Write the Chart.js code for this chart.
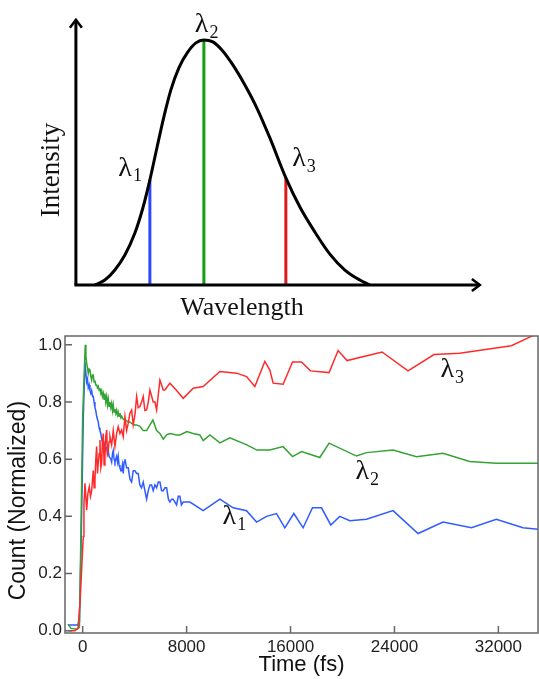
<!DOCTYPE html>
<html><head><meta charset="utf-8">
<script src="https://cdn.jsdelivr.net/npm/chart.js@4.4.1/dist/chart.umd.min.js"></script>
<style>
html,body{margin:0;padding:0;background:#fff;}
#wrap{position:relative;width:539px;height:679px;overflow:hidden;background:#fff;}
.box{position:absolute;left:0;}
</style></head><body>
<div id="wrap">
<div class="box" style="top:0;width:539px;height:320px"><canvas id="top" width="539" height="320"></canvas></div>
<div class="box" style="top:320px;width:539px;height:359px"><canvas id="bot" width="539" height="359"></canvas></div>
</div>
<script>
// ---------- top schematic: spectrum (arbitrary units) ----------
const spectrumX = [0, 3.64, 7.27, 10.91, 14.55, 17.45, 20, 22.55, 25.09, 27.64, 30.55, 33.82, 36.73, 39.64, 42.91, 46.18, 50.18, 54.55, 58.91, 63.64, 69.45, 74.55, 80, 85.45, 90.91, 96.36, 100];
const spectrumY = [0, 0.020, 0.061, 0.122, 0.212, 0.314, 0.429, 0.559, 0.686, 0.796, 0.886, 0.951, 0.988, 1.0, 0.992, 0.959, 0.898, 0.816, 0.722, 0.6, 0.437, 0.318, 0.216, 0.126, 0.061, 0.020, 0];
const markerNames = ['λ1', 'λ2', 'λ3'];
const markerX = [20, 39.64, 69.45];
const markerTop = [0.429, 1.0, 0.437];
const markerColors = ['#2f48ff', '#14a014', '#dd1a1a'];

// ---------- bottom chart: time-resolved counts ----------
const xTickValues = [0, 8000, 16000, 24000, 32000];
const yTickValues = [0, 0.2, 0.4, 0.6, 0.8, 1.0];

const timeL1 = [-1130,-400,-250,-100,50,177,250,308,370,431,500,562,630,692,760,815,880,946,1010,1077,1140,1200,1270,1331,1400,1462,1520,1585,1650,1715,1780,1846,1910,1969,2030,2100,2170,2231,2300,2354,2420,2485,2550,2615,2680,2738,2800,2869,2940,3000,3060,3123,3190,3254,3380,3508,3640,3769,3892,4023,4150,4277,4400,4530,4662,4790,4923,5050,5177,5308,5430,5562,5692,5820,5946,6077,6200,6331,6462,6600,6715,6850,6969,7100,7231,7360,7485,7600,7738,8254,9277,10562,11585,12615,13385,14154,14923,15562,16254,16969,17692,18385,19100,19792,20562,21846,23892,25815,27738,29923,31846,33892,35046];
const countL1 = [0.02,0.02,0.03,0.35,0.75,0.94,0.90,0.87,0.88,0.85,0.86,0.84,0.83,0.84,0.82,0.82,0.80,0.78,0.77,0.75,0.74,0.73,0.71,0.70,0.69,0.67,0.66,0.66,0.63,0.65,0.64,0.64,0.62,0.63,0.61,0.61,0.60,0.59,0.62,0.63,0.60,0.59,0.60,0.61,0.59,0.61,0.58,0.57,0.56,0.56,0.58,0.55,0.59,0.60,0.57,0.57,0.53,0.52,0.56,0.56,0.55,0.55,0.51,0.50,0.52,0.49,0.46,0.49,0.51,0.51,0.49,0.51,0.50,0.52,0.52,0.49,0.49,0.50,0.50,0.46,0.45,0.46,0.46,0.45,0.44,0.47,0.47,0.44,0.45,0.45,0.42,0.46,0.43,0.42,0.38,0.40,0.41,0.36,0.41,0.36,0.43,0.43,0.37,0.40,0.385,0.39,0.42,0.34,0.38,0.36,0.39,0.36,0.355];

const timeL2 = [-1130,-900,-450,-250,-150,0,200,250,308,370,431,500,562,630,692,760,815,880,946,1010,1077,1140,1200,1270,1331,1400,1462,1520,1585,1650,1715,1780,1846,1910,1969,2030,2100,2170,2231,2300,2354,2420,2485,2550,2615,2680,2738,2800,2869,2940,3000,3123,3254,3380,3508,3638,3769,3892,4023,4154,4408,4662,4923,5177,5408,5692,5946,6200,6462,6715,7231,7485,8023,8500,9023,9277,9800,10562,11331,12638,13408,14408,15431,16154,16846,18254,18969,21077,21846,23892,25692,27738,29792,31846,35046];
const countL2 = [0.023,0.008,0.005,0.012,0.30,0.75,1.0,0.96,0.936,0.92,0.90,0.915,0.912,0.89,0.877,0.895,0.895,0.87,0.875,0.86,0.86,0.85,0.855,0.84,0.848,0.83,0.84,0.82,0.831,0.81,0.83,0.80,0.819,0.79,0.81,0.785,0.80,0.78,0.795,0.77,0.79,0.765,0.775,0.76,0.772,0.755,0.765,0.75,0.761,0.745,0.75,0.74,0.737,0.735,0.73,0.73,0.725,0.722,0.72,0.72,0.715,0.70,0.70,0.72,0.737,0.70,0.69,0.67,0.685,0.69,0.685,0.685,0.697,0.69,0.685,0.665,0.685,0.657,0.675,0.65,0.632,0.632,0.644,0.609,0.627,0.606,0.656,0.611,0.623,0.632,0.609,0.621,0.592,0.586,0.586];

const timeL3 = [-1130,-600,-360,-200,46,100,177,308,400,508,600,692,760,815,880,946,1010,1077,1140,1200,1270,1331,1400,1462,1520,1585,1650,1715,1780,1846,1910,1969,2030,2100,2231,2354,2485,2615,2738,2869,3000,3123,3254,3380,3508,3638,3769,3892,4023,4154,4277,4408,4535,4662,4790,4923,5050,5177,5308,5430,5562,5692,5946,6077,6200,6331,6715,7231,7738,8508,9277,10562,11846,12615,13254,14023,14408,14662,15431,16154,16846,17538,18969,19662,20354,23046,25046,27046,29023,33000,34408,35046];
const countL3 = [0.0,0.0,0.008,0.1,0.33,0.446,0.516,0.422,0.48,0.504,0.47,0.49,0.53,0.56,0.50,0.527,0.60,0.644,0.55,0.586,0.62,0.667,0.57,0.586,0.66,0.69,0.58,0.609,0.68,0.702,0.62,0.632,0.66,0.679,0.65,0.70,0.644,0.69,0.714,0.69,0.702,0.679,0.749,0.70,0.726,0.761,0.772,0.72,0.755,0.819,0.78,0.784,0.80,0.819,0.77,0.772,0.80,0.842,0.82,0.80,0.80,0.772,0.877,0.86,0.842,0.842,0.866,0.84,0.813,0.848,0.854,0.907,0.901,0.889,0.854,0.942,0.912,0.866,0.862,0.94,0.94,0.909,0.903,0.98,0.945,0.975,0.909,0.966,0.971,0.997,1.027,1.04];

const seriesNames = ['λ1', 'λ2', 'λ3'];
const seriesColors = ['#2f5cff', '#33a333', '#ff2b2b'];
const yTitle = 'Count (Normalized)';
const xTitle = 'Time (fs)';

// ---------------- top chart ----------------
const SERIF = '"Liberation Serif", "DejaVu Serif", serif';
const SANS = '"Liberation Sans", Arial, sans-serif';
function drawLambda(ctx, cx, cy, sub, size, subSize) {
  ctx.save();
  ctx.fillStyle = '#111';
  ctx.font = size + 'px ' + SERIF;
  ctx.textAlign = 'center';
  ctx.textBaseline = 'middle';
  ctx.fillText('λ', cx, cy);
  ctx.font = subSize + 'px ' + SERIF;
  ctx.textAlign = 'left';
  ctx.fillText(sub, cx + size * 0.28, cy + size * 0.3);
  ctx.restore();
}

const topDatasets = [{
  label: 'spectrum',
  data: spectrumX.map((x, i) => ({x, y: spectrumY[i]})),
  borderColor: '#000', borderWidth: 3, pointRadius: 0,
  tension: 0.4, cubicInterpolationMode: 'monotone', order: 0
}];
markerX.forEach((x, i) => topDatasets.push({
  label: markerNames[i],
  data: [{x, y: 0}, {x, y: markerTop[i]}],
  borderColor: markerColors[i], borderWidth: 3, pointRadius: 0, order: 1
}));

const topDecor = {
  id: 'topDecor',
  afterDatasetsDraw(chart) {
    const ctx = chart.ctx, xs = chart.scales.x, ys = chart.scales.y;
    const ox = xs.getPixelForValue(-6.9), oy = ys.getPixelForValue(0);
    const tipY = ys.getPixelForValue(1.082), tipX = xs.getPixelForValue(140);
    ctx.save();
    ctx.strokeStyle = '#000'; ctx.lineWidth = 3; ctx.lineCap = 'butt'; ctx.lineJoin = 'miter';
    ctx.beginPath(); ctx.moveTo(ox, oy); ctx.lineTo(ox, tipY); ctx.stroke();
    ctx.beginPath(); ctx.moveTo(ox - 1.5, oy); ctx.lineTo(tipX, oy); ctx.stroke();
    ctx.lineWidth = 2.5;
    ctx.beginPath(); ctx.moveTo(ox - 6, tipY + 8); ctx.lineTo(ox, tipY); ctx.lineTo(ox + 6, tipY + 8); ctx.stroke();
    ctx.beginPath(); ctx.moveTo(tipX - 8, oy - 6); ctx.lineTo(tipX, oy); ctx.lineTo(tipX - 8, oy + 6); ctx.stroke();
    // labels
    drawLambda(ctx, xs.getPixelForValue(11.0), ys.getPixelForValue(0.476), '1', 28, 18);
    drawLambda(ctx, xs.getPixelForValue(38.8), ys.getPixelForValue(1.063), '2', 28, 18);
    drawLambda(ctx, xs.getPixelForValue(74.2), ys.getPixelForValue(0.514), '3', 28, 18);
    ctx.fillStyle = '#111';
    ctx.font = '26px ' + SERIF;
    ctx.textAlign = 'center'; ctx.textBaseline = 'middle';
    ctx.fillText('Wavelength', xs.getPixelForValue(53.5), ys.getPixelForValue(-0.094));
    ctx.translate(xs.getPixelForValue(-15.6), ys.getPixelForValue(0.469));
    ctx.rotate(-Math.PI / 2);
    ctx.font = '27px ' + SERIF;
    ctx.fillText('Intensity', 0, 0);
    ctx.restore();
  }
};

new Chart(document.getElementById('top'), {
  type: 'line',
  data: {datasets: topDatasets},
  options: {
    responsive: false, animation: false, events: [],
    layout: {padding: 0},
    plugins: {legend: {display: false}, tooltip: {enabled: false}},
    scales: {
      x: {type: 'linear', display: false, min: -34.5, max: 161.5},
      y: {type: 'linear', display: false, min: -0.143, max: 1.163}
    }
  },
  plugins: [topDecor]
});

// ---------------- bottom chart ----------------
const times = [timeL1, timeL2, timeL3];
const counts = [countL1, countL2, countL3];
const botDatasets = [2, 1, 0].map(i => ({
  label: seriesNames[i],
  data: times[i].map((t, k) => ({x: t, y: counts[i][k]})),
  borderColor: seriesColors[i], borderWidth: 1.5, pointRadius: 0, tension: 0
}));

const botDecor = {
  id: 'botDecor',
  afterDatasetsDraw(chart) {
    const ctx = chart.ctx, a = chart.chartArea, xs = chart.scales.x, ys = chart.scales.y;
    ctx.save();
    ctx.strokeStyle = '#666'; ctx.lineWidth = 1.5;
    ctx.strokeRect(a.left, a.top, a.right - a.left, a.bottom - a.top);
    ctx.beginPath();
    yTickValues.forEach(v => { const y = ys.getPixelForValue(v); ctx.moveTo(a.left, y); ctx.lineTo(a.left + 7, y); });
    xTickValues.forEach(v => { const x = xs.getPixelForValue(v); ctx.moveTo(x, a.bottom); ctx.lineTo(x, a.bottom - 7); });
    ctx.stroke();
    drawLambda(ctx, xs.getPixelForValue(11292), ys.getPixelForValue(0.40), '1', 28, 18);
    drawLambda(ctx, xs.getPixelForValue(21523), ys.getPixelForValue(0.555), '2', 28, 18);
    drawLambda(ctx, xs.getPixelForValue(28062), ys.getPixelForValue(0.914), '3', 28, 18);
    // y-axis title, centred a little below the axis middle as in the picture
    ctx.fillStyle = '#111';
    ctx.font = '23px ' + SANS;
    ctx.textAlign = 'center'; ctx.textBaseline = 'middle';
    ctx.translate(19, ys.getPixelForValue(0.455));
    ctx.rotate(-Math.PI / 2);
    ctx.fillText(yTitle, 0, 0);
    ctx.restore();
  }
};

new Chart(document.getElementById('bot'), {
  type: 'line',
  data: {datasets: botDatasets},
  options: {
    responsive: false, animation: false, events: [],
    layout: {padding: {top: 16, right: 1, left: 0, bottom: 0}},
    plugins: {legend: {display: false}, tooltip: {enabled: false}},
    scales: {
      x: {
        type: 'linear', min: -1360, max: 35050,
        grid: {display: false, drawTicks: false}, border: {display: false},
        afterBuildTicks: s => { s.ticks = xTickValues.map(v => ({value: v})); },
        ticks: {color: '#222', font: {family: SANS, size: 17}, padding: 4, maxRotation: 0, callback: v => String(v)},
        title: {display: true, text: xTitle, color: '#111', font: {family: SANS, size: 22}, padding: {top: 0, bottom: 1}},
        afterFit: s => { s.height = 46; }
      },
      y: {
        type: 'linear', min: -0.008, max: 1.031,
        grid: {display: false, drawTicks: false}, border: {display: false},
        afterBuildTicks: s => { s.ticks = yTickValues.map(v => ({value: v})); },
        ticks: {color: '#222', font: {family: SANS, size: 17}, padding: 3, callback: v => v.toFixed(1)},
        title: {display: false},
        afterFit: s => { s.width = 65; }
      }
    }
  },
  plugins: [botDecor]
});
</script>
</body></html>
